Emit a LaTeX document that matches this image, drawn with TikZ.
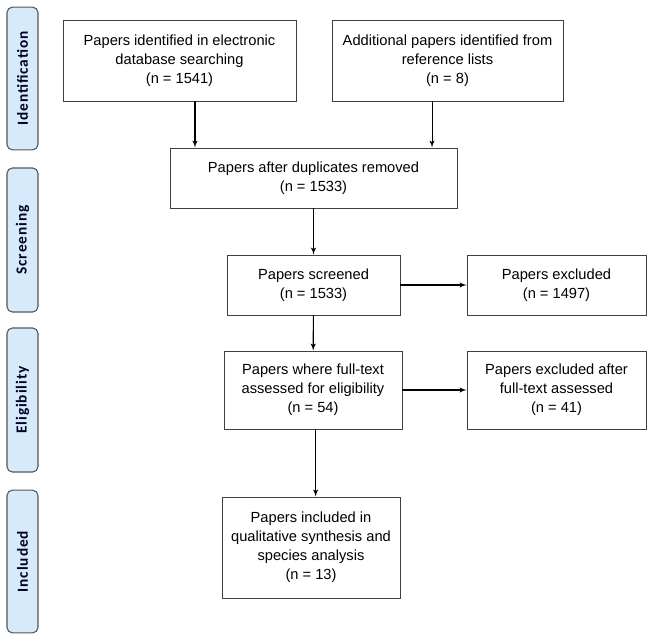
\documentclass[tikz,border=0pt]{standalone}
\usepackage{fontspec}
\setmainfont{Liberation Sans}
\newfontfamily\phasefont[LetterSpace=6]{Carlito}
\usepackage{tikz}
\usetikzlibrary{arrows, positioning}
\definecolor{phaseblue}{HTML}{D5EBFB}
\definecolor{phaseline}{HTML}{555555}

\tikzset{
	flowbox/.style={draw=black!75, line width=0.7pt, align=center, inner sep=2pt,
		font=\fontsize{11}{14.25}\selectfont},
	phasebar/.style={draw=phaseline, fill=phaseblue, rounded corners=4pt, line width=0.8pt,
		minimum height=23.25pt, rotate=90, text=black!85!blue,
		font=\phasefont\bfseries\fontsize{11.5}{13}\selectfont},
	link/.style={->, line width=0.8pt}
}

\begin{document}
\begin{tikzpicture}[x=0.75pt, y=-0.75pt, >=latex']
		\useasboundingbox (0,0) rectangle (653,640);

		% phases on the left
		\node[phasebar, minimum width=107pt] (ident) at (22.5, 78.5) {Identification};
		\node[phasebar, minimum width=108pt] (screen) at (22.5, 240) {Screening};
		\node[phasebar, minimum width=108pt] (elig) at (22.5, 400) {Eligibility};
		\node[phasebar, minimum width=107pt] (incl) at (22.5, 561.5) {Included};

		% boxes
		\node[flowbox, minimum width=174.75pt, minimum height=60.75pt] (found) at (179.5, 60.5)
			{Papers identified in electronic\\database searching\\(n = 1541)};
		\node[flowbox, minimum width=173.25pt, minimum height=60.75pt] (extra) at (447.5, 60.5)
			{Additional papers identified from\\reference lists\\(n = 8)};
		\node[flowbox, minimum width=215.25pt, minimum height=45pt] (dedup) at (313.5, 178)
			{Papers after duplicates removed\\(n = 1533)};
		\node[flowbox, minimum width=129.75pt, minimum height=45pt] (screened) at (313.5, 285)
			{Papers screened\\(n = 1533)};
		\node[flowbox, minimum width=134.25pt, minimum height=45pt] (excl) at (556.5, 285)
			{Papers excluded\\(n = 1497)};
		\node[flowbox, minimum width=133.5pt, minimum height=58.5pt] (fulltext) at (313, 390)
			{Papers where full-text\\assessed for eligibility\\(n = 54)};
		\node[flowbox, minimum width=134.25pt, minimum height=58.5pt] (exclft) at (556.5, 390)
			{Papers excluded after\\full-text assessed\\(n = 41)};
		\node[flowbox, minimum width=133.5pt, minimum height=75.75pt] (final) at (311, 547.5)
			{Papers included in\\qualitative synthesis and\\species analysis\\(n = 13)};

		% arrows
		\draw[link] ([xshift=11.6pt]found.south) -- ([xshift=11.6pt]found.south |- dedup.north);
		\draw[link] ([xshift=-11.6pt]extra.south) -- ([xshift=-11.6pt]extra.south |- dedup.north);
		\draw[link] (dedup) -- (screened);
		\draw[link] (screened) -- (excl);
		\draw[link] (screened) -- (fulltext);
		\draw[link] (fulltext) -- (exclft);
		\draw[link] ([xshift=2pt]fulltext.south) -- ([xshift=2pt]fulltext.south |- final.north);
	\end{tikzpicture}
\end{document}
